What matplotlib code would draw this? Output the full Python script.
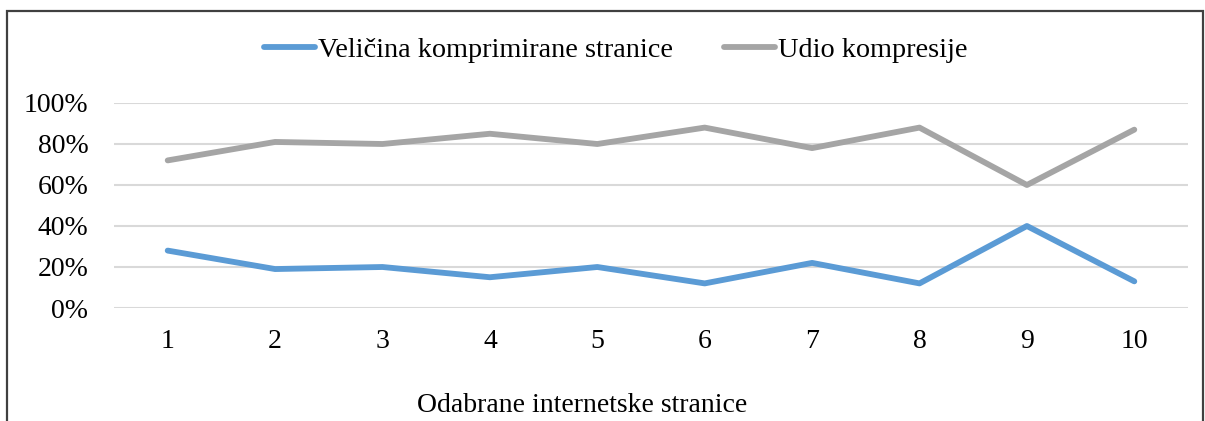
import matplotlib
matplotlib.use("Agg")
import matplotlib.pyplot as plt
from matplotlib.lines import Line2D
from matplotlib.patches import Rectangle

pages = [1, 2, 3, 4, 5, 6, 7, 8, 9, 10]
compressed_size = [28, 19, 20, 15, 20, 12, 22, 12, 40, 13]
compression_share = [72, 81, 80, 85, 80, 88, 78, 88, 60, 87]
y_ticks = [0, 20, 40, 60, 80, 100]
series_names = ["Veličina komprimirane stranice", "Udio kompresije"]
x_title = "Odabrane internetske stranice"

plt.rcParams["font.family"] = ["Liberation Serif", "DejaVu Serif"]

W, H = 1205, 421
fig = plt.figure(figsize=(W / 100, H / 100), dpi=100)

# outer chart frame (bottom edge falls outside the image)
fig.patches.append(Rectangle((7 / W, -0.2), (1203 - 7) / W, 1.2 - 11 / H,
                             transform=fig.transFigure, fill=False,
                             edgecolor="#404040", linewidth=1.6))

ax = fig.add_axes([114 / W, 1 - 308 / H, (1188 - 114) / W, (308 - 103) / H])
blue = "#5B9BD5"
gray = "#A5A5A5"
ax.plot(pages, compressed_size, color=blue, linewidth=4.2, solid_joinstyle="round",
        solid_capstyle="round", label=series_names[0], zorder=3)
ax.plot(pages, compression_share, color=gray, linewidth=4.2, solid_joinstyle="round",
        solid_capstyle="round", label=series_names[1], zorder=3)

ax.set_xlim(0.5, 10.5)
ax.set_ylim(0, 100)
ax.set_yticks(y_ticks)
ax.set_yticklabels([f"{v}%" for v in y_ticks])
ax.set_xticks(pages)
ax.set_xticklabels([str(p) for p in pages])
ax.grid(axis="y", color="#D9D9D9", linewidth=1.5)
ax.set_axisbelow(True)
for s in ax.spines.values():
    s.set_visible(False)
ax.tick_params(axis="both", length=0, labelsize=20, colors="black")
ax.tick_params(axis="y", pad=18.5)
ax.tick_params(axis="x", pad=15)

handles = [Line2D([], [], color=blue, linewidth=4.2, solid_capstyle="round"),
           Line2D([], [], color=gray, linewidth=4.2, solid_capstyle="round")]
fig.legend(handles, series_names, loc="center", bbox_to_anchor=(616 / W, 1 - 50 / H),
           ncol=2, frameon=False, fontsize=20.3, handlelength=1.8,
           handletextpad=0.12, columnspacing=1.8)

fig.text(582 / W, 1 - 405 / H, x_title, ha="center", va="center", fontsize=20)

fig.savefig("out.png", dpi=100, facecolor="white")
